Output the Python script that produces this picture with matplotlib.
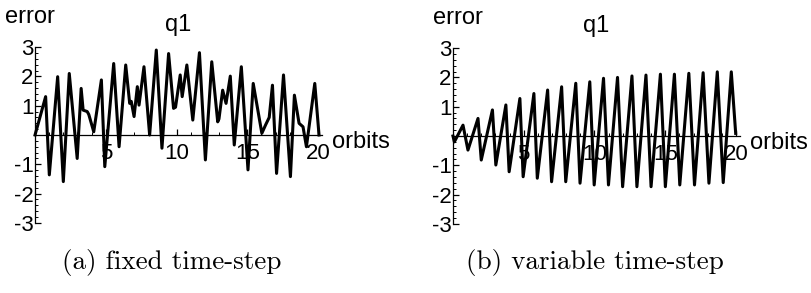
import numpy as np
import matplotlib
matplotlib.use("Agg")
import matplotlib.pyplot as plt
from matplotlib.ticker import MultipleLocator

plt.rcParams["font.family"] = ["Liberation Sans", "DejaVu Sans"]

# q1 error vs orbits (vertices of the traces)
fixed_t = [0.0, 0.75, 1.01, 1.6, 2.0, 2.42, 2.98, 3.26, 3.4, 3.69, 3.8, 4.15,
           4.69, 4.93, 5.56, 5.94, 6.41, 6.69, 6.8, 7.0, 7.23, 7.35, 7.7, 8.1,
           8.57, 8.97, 9.44, 9.79, 9.93, 10.26, 10.4, 10.73, 11.15, 11.62, 12.04,
           12.49, 12.91, 13.0, 13.26, 13.5, 13.8, 14.08, 14.58, 15.05, 15.42,
           16.03, 16.3, 16.55, 16.78, 17.07, 17.56, 18.05, 18.33, 18.66, 18.94,
           19.18, 19.77, 20.07]
fixed_err = [0.0, 1.31, -1.36, 1.99, -1.59, 2.1, -0.8, 1.59, 0.85, 0.8, 0.7, 0.11,
             1.88, -1.08, 2.44, -0.4, 2.39, 1.08, 1.15, 0.63, 1.65, 1.02, 2.33, 0.0,
             2.9, -0.45, 2.78, 0.91, 0.95, 2.05, 1.31, 2.39, 0.51, 2.81, -0.85,
             2.5, 0.45, 0.55, 1.53, 1.08, 2.01, -0.34, 2.33, -1.19, 1.76,
             0.06, 0.35, 0.6, 1.7, -1.31, 2.05, -1.42, 1.36, 0.4, 0.28,
             -0.4, 1.76, 0.0]

var_t = [0.0, 0.1, 0.71, 1.06, 1.77, 2.0, 2.79, 3.03, 3.74, 3.97, 4.73, 4.96,
         5.72, 5.96, 6.69, 6.97, 7.68, 7.97, 8.68, 8.98, 9.67, 9.98, 10.64, 10.99,
         11.63, 11.99, 12.65, 13.0, 13.64, 14.0, 14.66, 15.01, 15.65, 16.03,
         16.67, 17.07, 17.68, 18.09, 18.68, 19.1, 19.67, 19.98]
var_err = [0.0, -0.2, 0.37, -0.48, 0.6, -0.82, 0.89, -0.99, 1.06, -1.22, 1.28, -1.39,
           1.45, -1.44, 1.57, -1.56, 1.68, -1.56, 1.8, -1.61, 1.85, -1.67, 1.97, -1.67,
           2.0, -1.73, 2.05, -1.73, 2.08, -1.73, 2.11, -1.73, 2.11, -1.67,
           2.14, -1.67, 2.16, -1.61, 2.19, -1.59, 2.19, 0.09]

x_ticks = [5, 10, 15, 20]
y_ticks = [-3, -2, -1, 1, 2, 3]
captions = ["(a) fixed time-step", "(b) variable time-step"]

fig = plt.figure(figsize=(8.12, 2.93), dpi=100)
ax_a = fig.add_axes([0.0379, 0.2242, 0.3677, 0.630])
ax_b = fig.add_axes([0.5526, 0.2208, 0.3677, 0.630])


def style_axes(ax, error_x):
    ax.set_xlim(-0.3, 20.8)
    ax.set_ylim(-3.15, 3.15)
    ax.patch.set_visible(False)
    for side in ["top", "right"]:
        ax.spines[side].set_visible(False)
    ax.spines["left"].set_position(("data", 0))
    ax.spines["bottom"].set_position(("data", 0))
    ax.spines["left"].set_bounds(-3, 3)
    ax.spines["bottom"].set_bounds(0, 20.3)
    for sp in ["left", "bottom"]:
        ax.spines[sp].set_linewidth(0.9)
    ax.set_xticks(x_ticks)
    ax.set_xticklabels([str(v) for v in x_ticks])
    ax.set_yticks(y_ticks)
    ax.set_yticklabels([str(v) for v in y_ticks])
    ax.xaxis.set_minor_locator(MultipleLocator(1))
    ax.yaxis.set_minor_locator(MultipleLocator(0.2))
    ax.tick_params(which="major", direction="in", length=4, width=0.9, labelsize=16)
    ax.tick_params(which="minor", direction="in", length=2, width=0.7)
    ax.tick_params(axis="x", pad=6)
    ax.tick_params(axis="y", pad=1)
    ax.text(error_x, 3.82, "error", fontsize=17, ha="left", va="baseline", clip_on=False)
    ax.text(10.1, 3.55, "q1", fontsize=17, ha="center", va="baseline", clip_on=False)
    ax.text(21.0, -0.45, "orbits", fontsize=17, ha="left", va="baseline", clip_on=False)


ax_a.plot(fixed_t, fixed_err, color="black", lw=2.2, solid_joinstyle="round")
ax_b.plot(var_t, var_err, color="black", lw=2.2, solid_joinstyle="round")
style_axes(ax_a, -2.1)
style_axes(ax_b, -1.4)

fig.text(172 / 812, 1 - 262 / 293, captions[0], family="cmr10", fontsize=19.5,
         ha="center", va="center")
fig.text(595 / 812, 1 - 262 / 293, captions[1], family="cmr10", fontsize=19.5,
         ha="center", va="center")

fig.savefig("out.png", dpi=100, facecolor="white")
